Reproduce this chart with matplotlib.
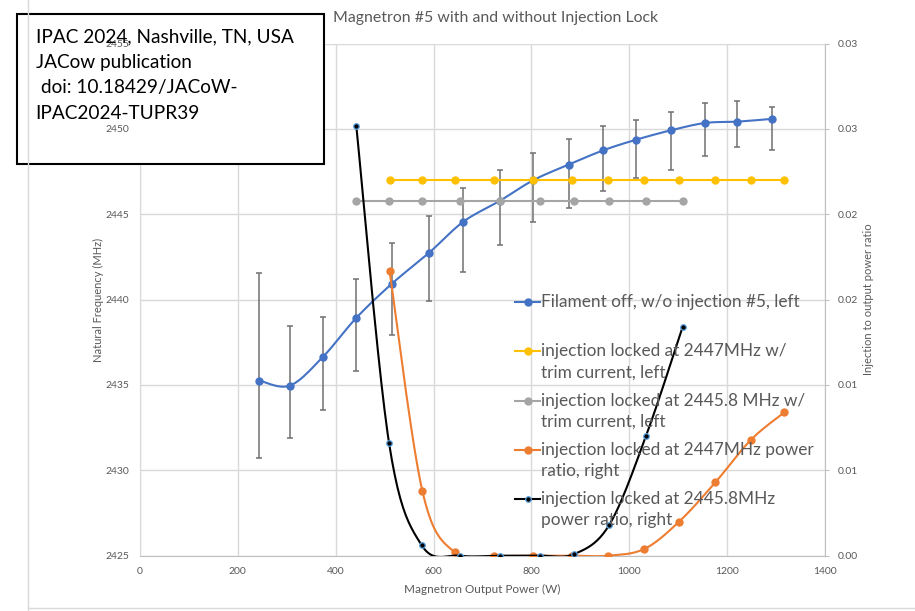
import numpy as np
import matplotlib
matplotlib.use('Agg')
import matplotlib.pyplot as plt
from matplotlib.lines import Line2D
from matplotlib.patches import Rectangle

plt.rcParams['font.family'] = ['Lato', 'DejaVu Sans']

# filament off, no injection (left axis, MHz)
blue_x = [244, 306, 373, 442, 515, 591, 661, 735, 804, 876, 947, 1014, 1085, 1155, 1221, 1292]
blue_y = [2435.26, 2434.96, 2436.62, 2438.93, 2440.94, 2442.75, 2444.57, 2445.78, 2447.0,
          2447.91, 2448.75, 2449.37, 2449.92, 2450.35, 2450.43, 2450.59]
blue_err_lo = [4.55, 3.09, 3.11, 3.09, 2.99, 2.81, 2.97, 2.60, 2.43, 2.56, 2.40, 2.27, 2.34, 1.93, 1.46, 1.84]
blue_err_hi = [6.29, 3.52, 2.34, 2.27, 2.38, 2.17, 1.95, 1.82, 1.62, 1.50, 1.41, 1.13, 1.09, 1.15, 1.21, 0.68]

# locked at 2447 MHz (yellow, left) and its power ratio (orange, right)
lock47_x = [510, 577, 643, 724, 804, 882, 957, 1031, 1102, 1176, 1249, 1317]
lock47_f = [2447.0] * 12
lock47_ratio = [0.0167, 0.0038, 0.0002, 0.0, 0.0, 0.0, 0.0, 0.0004, 0.0020, 0.0043, 0.0068, 0.0084]

# locked at 2445.8 MHz (grey, left) and its power ratio (black, right)
lock458_x = [442, 509, 576, 654, 735, 817, 888, 959, 1034, 1109]
lock458_f = [2445.8] * 10
lock458_ratio = [0.0252, 0.0066, 0.0006, 0.0, 0.0, 0.0, 0.0001, 0.0018, 0.0070, 0.0134]

x_ticks = [0, 200, 400, 600, 800, 1000, 1200, 1400]
left_ticks = [2425, 2430, 2435, 2440, 2445, 2450, 2455]
right_ticks = [0.0, 0.005, 0.01, 0.015, 0.02, 0.025, 0.03]
right_labels = ['0.00', '0.01', '0.01', '0.02', '0.02', '0.03', '0.03']

labels = ['Filament off, w/o injection #5, left',
          'injection locked at 2447MHz w/\ntrim current, left',
          'injection locked at 2445.8 MHz w/\ntrim current, left',
          'injection locked at 2447MHz power\nratio, right',
          'injection locked at 2445.8MHz\npower ratio, right']

BLUE, YELLOW, GREY, ORANGE = '#4472C4', '#FFC000', '#A5A5A5', '#ED7D31'
TXT = '#595959'
W, H = 915, 611


def smooth(x, y, n=24):
    # excel style smoothed line (bezier through the points)
    p = np.column_stack([x, y]).astype(float)
    e = np.vstack([p[0], p, p[-1]])
    t = np.linspace(0, 1, n)[:, None]
    segs = []
    for i in range(len(p) - 1):
        p0, p1, p2, p3 = e[i], e[i + 1], e[i + 2], e[i + 3]
        c1 = p1 + (p2 - p0) / 6
        c2 = p2 - (p3 - p1) / 6
        segs.append((1 - t)**3 * p1 + 3 * (1 - t)**2 * t * c1 + 3 * (1 - t) * t**2 * c2 + t**3 * p2)
    s = np.vstack(segs)
    return s[:, 0], s[:, 1]


def fx(px):
    return px / W


def fy(py):
    return 1 - py / H


fig = plt.figure(figsize=(9.15, 6.11), dpi=100)
ax = fig.add_axes([fx(140), fy(555.7), (825 - 140) / W, (555.7 - 43.6) / H])
ax2 = ax.twinx()

# grid
for v in x_ticks:
    ax.axvline(v, color='#d9d9d9', lw=1, zorder=0.5)
for v in left_ticks:
    ax.axhline(v, color='#d9d9d9', lw=1, zorder=0.5)

# publication box
ax.add_patch(Rectangle((fx(17), fy(164)), 307 / W, 150 / H, transform=fig.transFigure,
                       facecolor='white', edgecolor='black', lw=1.5, clip_on=False, zorder=1))

bx, by = smooth(blue_x, blue_y)
ax.plot(bx, by, color=BLUE, lw=1.5, zorder=2)
ax.errorbar(blue_x, blue_y, yerr=[blue_err_lo, blue_err_hi], fmt='none', ecolor='#707070',
            elinewidth=1.1, capsize=2.2, capthick=1.1, zorder=2.05)
ax.plot(blue_x, blue_y, ls='none', marker='o', ms=5, color=BLUE, zorder=2.1)
ax.plot(lock47_x, lock47_f, color=YELLOW, lw=1.5, marker='o', ms=5, zorder=2.2)
ax.plot(lock458_x, lock458_f, color=GREY, lw=1.5, marker='o', ms=5, zorder=2.3)

ox, oy = smooth(lock47_x, lock47_ratio)
ax2.plot(ox, oy, color=ORANGE, lw=1.5, zorder=2)
ax2.plot(lock47_x, lock47_ratio, ls='none', marker='o', ms=5, color=ORANGE, zorder=2.1)
kx, ky = smooth(lock458_x, lock458_ratio)
ax2.plot(kx, ky, color='black', lw=1.5, zorder=2.2)
ax2.plot(lock458_x, lock458_ratio, ls='none', marker='o', ms=4, mfc='black', mec='#5BA3E0',
         mew=0.9, zorder=2.3)

ax.set_xlim(0, 1400)
ax.set_ylim(2425, 2455)
ax2.set_ylim(0, 0.03)
ax.set_xticks(x_ticks)
ax.set_yticks(left_ticks)
ax2.set_yticks(right_ticks)
ax2.set_yticklabels(right_labels)

ax.tick_params(axis='both', length=0, labelsize=7.5, labelcolor=TXT, pad=8)
ax2.tick_params(axis='y', length=3, color='#bfbfbf', labelsize=7.5, labelcolor=TXT, pad=6)

for s in ['top', 'right']:
    ax.spines[s].set_visible(False)
ax.spines['left'].set_color('#d9d9d9')
ax.spines['left'].set_zorder(0.5)
ax.spines['bottom'].set_color('#bfbfbf')
for s in ['top', 'left', 'bottom']:
    ax2.spines[s].set_visible(False)
ax2.spines['right'].set_color('#bfbfbf')

ax.set_xlabel('Magnetron Output Power (W)', fontsize=8.5, color=TXT, labelpad=6)
ax.set_ylabel('Natural Frequency (MHz)', fontsize=8, color=TXT, labelpad=1)
ax2.set_ylabel('Injection to output power ratio', fontsize=8, color=TXT, labelpad=4)

fig.text(fx(495.5), fy(18.3), 'Magnetron #5 with and without Injection Lock',
         ha='center', va='center', fontsize=11.4, color=TXT)

fig.text(fx(35.5), fy(75), 'IPAC 2024, Nashville, TN, USA\nJACow publication\n doi: 10.18429/JACoW-\nIPAC2024-TUPR39',
         ha='left', va='center', fontsize=13.7, color='black', linespacing=1.62)

# legend
styles = [dict(color=BLUE, marker='o', ms=5),
          dict(color=YELLOW, marker='o', ms=5),
          dict(color=GREY, marker='o', ms=5),
          dict(color=ORANGE, marker='o', ms=5),
          dict(color='black', marker='o', ms=4, mfc='black', mec='#5BA3E0', mew=0.9)]
for i, (lab, st) in enumerate(zip(labels, styles)):
    ly = 302 + i * 49.3
    fig.add_artist(Line2D([fx(515), fx(540)], [fy(ly), fy(ly)], lw=1.5, markevery=[], **st))
    fig.add_artist(Line2D([fx(527.5)], [fy(ly)], ls='none', **st))
    nl = lab.count('\n')
    fig.text(fx(541), fy(ly + nl * 10.5), lab, ha='left', va='center', fontsize=12.4,
             color=TXT, linespacing=1.38)

# outer chart frame
fig.add_artist(Line2D([fx(28), fx(28)], [0, 1], color='#d9d9d9', lw=1))
fig.add_artist(Line2D([fx(28), 1], [fy(608), fy(608)], color='#d9d9d9', lw=1))

fig.savefig('out.png', dpi=100)
